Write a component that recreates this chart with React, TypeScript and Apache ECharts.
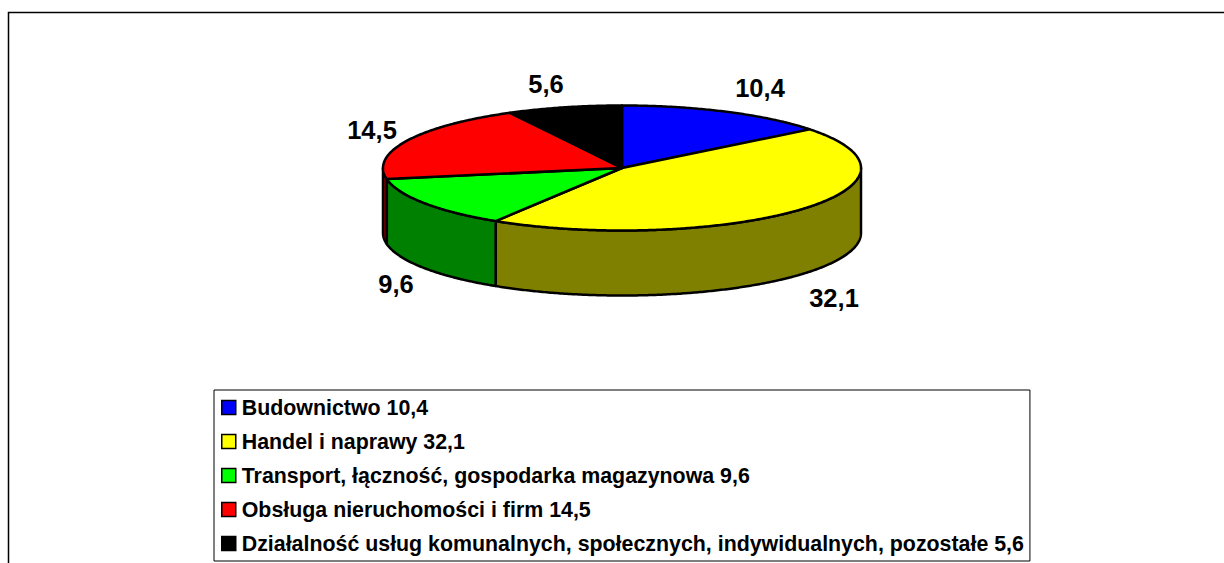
import React, { useEffect, useRef } from "react";
import * as echarts from "echarts";

const categories = [
  "Budownictwo",
  "Handel i naprawy",
  "Transport, łączność, gospodarka magazynowa",
  "Obsługa nieruchomości i firm",
  "Działalność usług komunalnych, społecznych, indywidualnych, pozostałe",
];
const values = [10.4, 32.1, 9.6, 14.5, 5.6];
const topColors = ["#0000ff", "#ffff00", "#00ff00", "#ff0000", "#000000"];
const wallColors = ["#000080", "#808000", "#008000", "#800000", "#000000"];
// Label centres, as a layout table (Excel-style manual placement).
const labelCentres = [
  [760, 88],
  [834, 298],
  [396, 284],
  [372, 130],
  [546, 84],
];

const CX = 622;
const CY = 168;
const RX = 239;
const RY = 62.5;
const DEPTH = 65;
const FONT = "'Liberation Sans', Arial, sans-serif";

const fmt = (v: number) => v.toFixed(1).replace(".", ",");
const total = values.reduce((a, b) => a + b, 0);
const toAngle = (v: number) => (v / total) * 360;
const rimPoint = (deg: number, dy = 0) => {
  const r = (deg * Math.PI) / 180;
  return [CX + RX * Math.sin(r), CY - RY * Math.cos(r) + dy];
};
const arc = (a: number, b: number, dy = 0) => {
  const n = Math.max(2, Math.ceil(Math.abs(b - a) * 2));
  const pts: number[][] = [];
  for (let i = 0; i <= n; i++) pts.push(rimPoint(a + ((b - a) * i) / n, dy));
  return pts;
};

const makeRenderItem = (index: number) => (_params: any, api: any) => {
  const value = api.value(0);
  const start = values.slice(0, index).reduce((s, v) => s + toAngle(v), 0);
  const end = start + toAngle(value);
  const children: any[] = [];
  const wallStart = Math.max(start, 90);
  const wallEnd = Math.min(end, 270);
  if (wallEnd > wallStart) {
    children.push({
      type: "polygon",
      z2: 1,
      shape: { points: [...arc(wallStart, wallEnd), ...arc(wallEnd, wallStart, DEPTH)] },
      style: { fill: wallColors[index], stroke: "#000", lineWidth: 2.5, lineJoin: "round" },
    });
  }
  children.push({
    type: "polygon",
    z2: 2,
    shape: { points: [[CX, CY], ...arc(start, end)] },
    style: { fill: topColors[index], stroke: "#000", lineWidth: 2.5, lineJoin: "round" },
  });
  children.push({
    type: "text",
    z2: 3,
    x: labelCentres[index][0],
    y: labelCentres[index][1],
    style: {
      text: fmt(value),
      fill: "#000",
      font: `bold 25.5px ${FONT}`,
      align: "center",
      verticalAlign: "middle",
    },
  });
  return { type: "group", children };
};

const names = categories.map((c, i) => `${c} ${fmt(values[i])}`);

export default function App() {
  const ref = useRef<HTMLDivElement>(null);
  useEffect(() => {
    document.body.style.margin = "0";
    document.body.style.overflow = "hidden";
    const chart = echarts.init(ref.current!, undefined, { renderer: "svg" });
    chart.setOption({
      animation: false,
      backgroundColor: "#fff",
      graphic: [
        {
          type: "rect",
          z: -1,
          shape: { x: 8.5, y: 12.5, width: 1400, height: 800 },
          style: { fill: "none", stroke: "#000", lineWidth: 1.5 },
        },
      ],
      legend: {
        show: true,
        orient: "vertical",
        left: 214,
        top: 390,
        height: 400,
        padding: [7, 6, 7, 7],
        itemGap: 13,
        itemWidth: 14,
        itemHeight: 14,
        selectedMode: false,
        backgroundColor: "#fff",
        borderColor: "#000",
        borderWidth: 1,
        textStyle: { color: "#000", fontFamily: FONT, fontWeight: "bold", fontSize: 21.36, lineHeight: 20, padding: [0, 0, 0, 1] },
        data: names.map((name, i) => ({
          name,
          icon: "rect",
          itemStyle: { color: topColors[i], borderColor: "#000", borderWidth: 1.5 },
        })),
      },
      series: values.map((v, i) => ({
        type: "custom",
        name: names[i],
        coordinateSystem: "none",
        silent: true,
        itemStyle: { color: topColors[i] },
        renderItem: makeRenderItem(i),
        data: [[v]],
      })),
    });
    return () => chart.dispose();
  }, []);
  return <div ref={ref} style={{ position: "fixed", left: 0, top: 0, width: 1224, height: 563 }} />;
}
